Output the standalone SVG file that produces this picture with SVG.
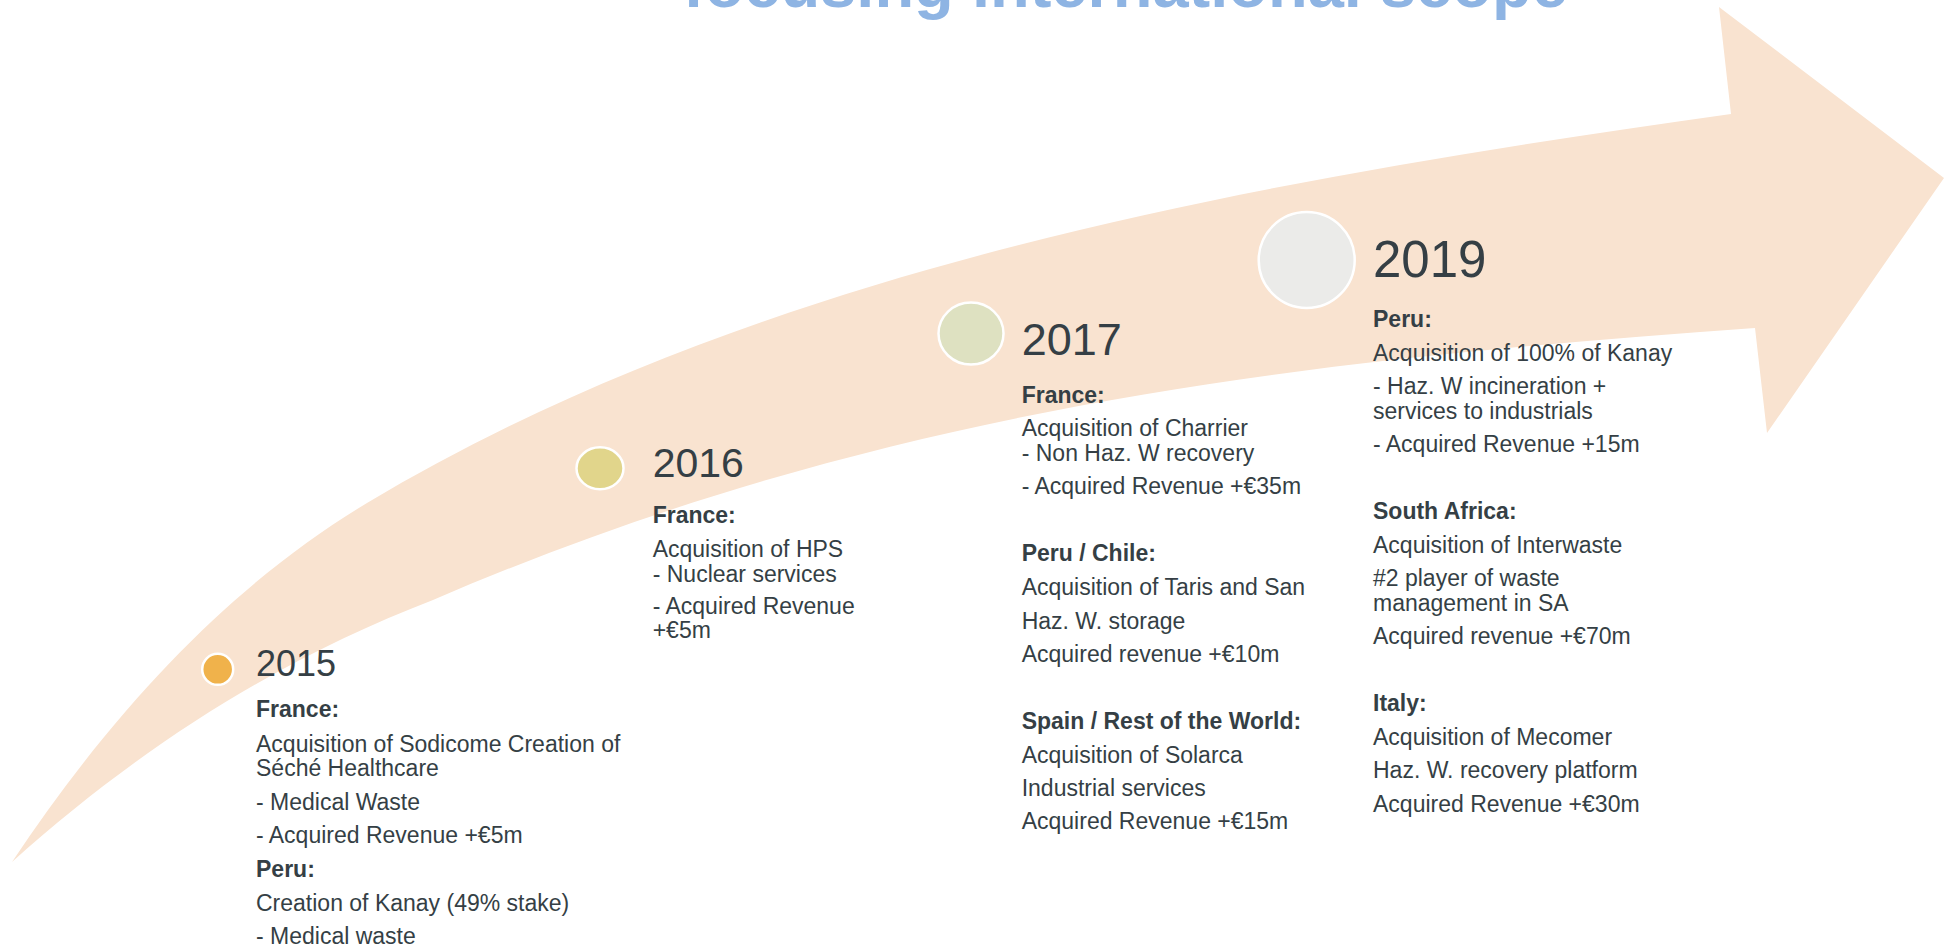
<svg xmlns="http://www.w3.org/2000/svg" width="1946" height="947" viewBox="0 0 1946 947">
  <style>
    text { font-family: "Liberation Sans", Arial, Helvetica, sans-serif; fill: #353F45; }
    .title { font-size: 65px; font-weight: bold; fill: #8EB4E3; }
    .body { font-size: 23px; }
    .head { font-size: 23px; font-weight: bold; }
    .dot { stroke: #FFFFFF; stroke-width: 2.5; }
  </style>

  <rect width="1946" height="947" fill="#FFFFFF"/>

  <!-- Title (runs off the top edge) -->
  <text class="title" x="683" y="7">focusing international scope</text>

  <!-- Curved timeline arrow -->
  <g id="timeline-arrow">
    <path fill="#F9E3D0"
          d="M12,862
             C130,685 249,574 367,503
             C767,263 1281,177 1731,114
             L1719,7 L1944,178 L1767,433 L1755,328
             C1305,360 883,406 433,600
             C290,655 150,738 12,862 Z"/>
  </g>

  <!-- 2015 -->
  <g id="year-2015">
    <circle class="dot" cx="217.7" cy="669.3" r="15.5" fill="#F0B24B"/>
    <text x="256" y="676" font-size="36">2015</text>
    <text class="head" x="256" y="717">France:</text>
    <text class="body" x="256" y="752">Acquisition of Sodicome Creation of</text>
    <text class="body" x="256" y="776">Séché Healthcare</text>
    <text class="body" x="256" y="810">- Medical Waste</text>
    <text class="body" x="256" y="843">- Acquired Revenue +€5m</text>
    <text class="head" x="256" y="877">Peru:</text>
    <text class="body" x="256" y="911">Creation of Kanay (49% stake)</text>
    <text class="body" x="256" y="944">- Medical waste</text>
  </g>

  <!-- 2016 -->
  <g id="year-2016">
    <ellipse class="dot" cx="600" cy="468.3" rx="23.5" ry="21" fill="#E1D58B"/>
    <text x="652.7" y="477.3" font-size="41">2016</text>
    <text class="head" x="652.7" y="522.7">France:</text>
    <text class="body" x="652.7" y="556.7">Acquisition of HPS</text>
    <text class="body" x="652.7" y="581.7">- Nuclear services</text>
    <text class="body" x="652.7" y="614.3">- Acquired Revenue</text>
    <text class="body" x="652.7" y="638.3">+€5m</text>
  </g>

  <!-- 2017 -->
  <g id="year-2017">
    <ellipse class="dot" cx="971" cy="333.6" rx="32.5" ry="31" fill="#DEE1C1"/>
    <text x="1021.7" y="355" font-size="45">2017</text>
    <text class="head" x="1021.7" y="403">France:</text>
    <text class="body" x="1021.7" y="435.7">Acquisition of Charrier</text>
    <text class="body" x="1021.7" y="460.7">- Non Haz. W recovery</text>
    <text class="body" x="1021.7" y="494.3">- Acquired Revenue +€35m</text>
    <text class="head" x="1021.7" y="560.7">Peru / Chile:</text>
    <text class="body" x="1021.7" y="595.4">Acquisition of Taris and San</text>
    <text class="body" x="1021.7" y="628.6">Haz. W. storage</text>
    <text class="body" x="1021.7" y="662.1">Acquired revenue +€10m</text>
    <text class="head" x="1021.7" y="728.6">Spain / Rest of the World:</text>
    <text class="body" x="1021.7" y="763.2">Acquisition of Solarca</text>
    <text class="body" x="1021.7" y="796.4">Industrial services</text>
    <text class="body" x="1021.7" y="829.3">Acquired Revenue +€15m</text>
  </g>

  <!-- 2019 -->
  <g id="year-2019">
    <circle class="dot" cx="1306.7" cy="260" r="48" fill="#EBEBE9"/>
    <text x="1373" y="277.3" font-size="51">2019</text>
    <text class="head" x="1373" y="327.3">Peru:</text>
    <text class="body" x="1373" y="360.7">Acquisition of 100% of Kanay</text>
    <text class="body" x="1373" y="394.3">- Haz. W incineration +</text>
    <text class="body" x="1373" y="418.7">services to industrials</text>
    <text class="body" x="1373" y="452.3">- Acquired Revenue +15m</text>
    <text class="head" x="1373" y="519.3">South Africa:</text>
    <text class="body" x="1373" y="553.3">Acquisition of Interwaste</text>
    <text class="body" x="1373" y="586">#2 player of waste</text>
    <text class="body" x="1373" y="610.7">management in SA</text>
    <text class="body" x="1373" y="644.3">Acquired revenue +€70m</text>
    <text class="head" x="1373" y="711">Italy:</text>
    <text class="body" x="1373" y="745">Acquisition of Mecomer</text>
    <text class="body" x="1373" y="778.3">Haz. W. recovery platform</text>
    <text class="body" x="1373" y="811.7">Acquired Revenue +€30m</text>
  </g>
</svg>
